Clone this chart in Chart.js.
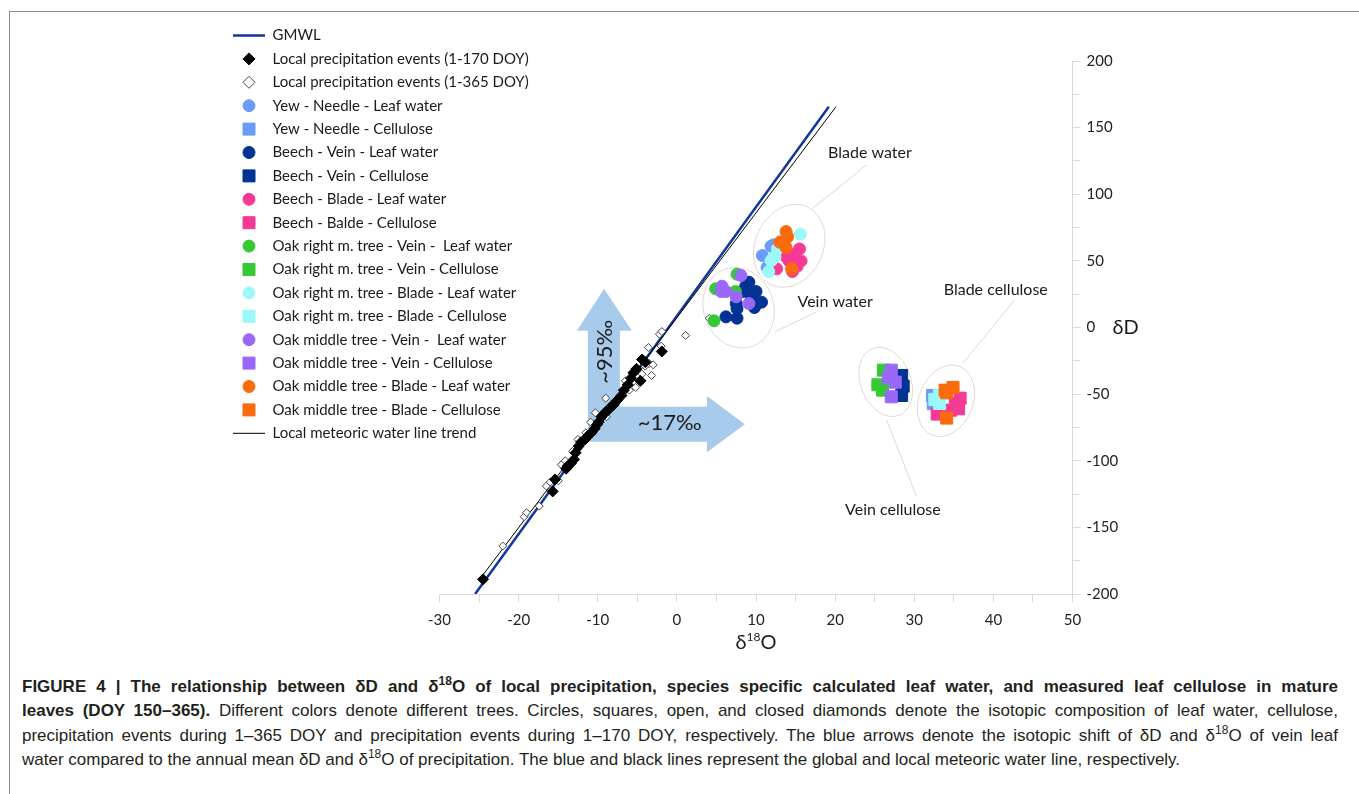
<!DOCTYPE html>
<html>
<head>
<meta charset="utf-8">
<script src="https://cdn.jsdelivr.net/npm/chart.js@4.4.1/dist/chart.umd.min.js"></script>
<style>
  html, body { margin: 0; padding: 0; background: #fff; }
  body { width: 1359px; height: 794px; position: relative; overflow: hidden; }
  #frame { position: absolute; left: 9px; top: 11px; width: 1360px; height: 800px; border: 1px solid #8c8c8c; box-sizing: border-box; }
  #plot { position: absolute; left: 0; top: 0; }
  #caption { position: absolute; left: 22px; top: 675px; width: 1316px; font-family: "Liberation Sans", Arial, sans-serif; font-size: 17px; line-height: 24.3px; color: #231f20; }
  #caption div { text-align: justify; text-align-last: justify; white-space: nowrap; }
  #caption div.last { text-align-last: left; }
  #caption sup { font-size: 12px; line-height: 0; }
</style>
</head>
<body>
<div id="frame"></div>
<canvas id="plot" width="1359" height="657"></canvas>
<div id="caption">
  <div><b>FIGURE 4 | The relationship between δD and δ<sup>18</sup>O of local precipitation, species specific calculated leaf water, and measured leaf cellulose in mature</b></div>
  <div><b>leaves (DOY 150–365).</b> Different colors denote different trees. Circles, squares, open, and closed diamonds denote the isotopic composition of leaf water, cellulose,</div>
  <div>precipitation events during 1–365 DOY and precipitation events during 1–170 DOY, respectively. The blue arrows denote the isotopic shift of δD and δ<sup>18</sup>O of vein leaf</div>
  <div class="last">water compared to the annual mean δD and δ<sup>18</sup>O of precipitation. The blue and black lines represent the global and local meteoric water line, respectively.</div>
</div>
<script>
// axis ranges
const xMin = -30, xMax = 50, xStep = 5;
const yMin = -200, yMax = 200, yStep = 25;

// [δ18O, δD] pairs
const gmwl = [[-25.5, -200], [19.2, 165.6]];
const lmwl = [[-24.8, -188], [20.1, 165.6]];

const precip170 = [
    [-24.5, -189], [-15.7, -123], [-15.4, -114], [-14.0, -106], [-13.8, -104], [-13.4, -102],
    [-13.0, -99], [-12.8, -94], [-12.4, -89], [-12.1, -86], [-11.6, -84], [-11.2, -81],
    [-10.8, -79], [-10.4, -76], [-10.1, -73], [-9.9, -71], [-9.5, -67], [-9.1, -64],
    [-8.7, -62], [-8.4, -60], [-8.0, -58], [-7.6, -55], [-7.0, -51], [-6.7, -47],
    [-6.2, -43], [-5.8, -38], [-5.5, -34], [-5.1, -31], [-4.6, -40], [-4.4, -24],
    [-4.0, -26], [-1.9, -18]
];
const precip365 = [
    [-22.0, -164], [-19.3, -142], [-19.0, -139], [-17.4, -134], [-16.5, -119], [-16.0, -116],
    [-15.0, -115], [-14.6, -103], [-14.1, -100], [-13.2, -93], [-12.5, -84], [-11.5, -79],
    [-10.9, -71], [-10.3, -64], [-9.0, -53], [-8.9, -67], [-8.3, -58], [-7.3, -54],
    [-6.5, -40], [-6.0, -47], [-5.5, -42], [-5.2, -45], [-4.4, -35], [-4.0, -29],
    [-3.5, -27], [-3.2, -36], [-3.0, -28], [-3.6, -15], [-2.0, -14], [-2.2, -5],
    [-1.9, -3], [1.1, -6], [4.1, 7]
];

const yewWater = [[11.9, 61], [10.8, 54], [11.4, 45], [12.2, 62]];
const yewCellulose = [[32.3, -51], [32.4, -57]];
const beechVeinWater = [[9.1, 34], [8.7, 31], [10.0, 27], [8.3, 27], [9.4, 23], [7.5, 18], [7.6, 14], [10.7, 19], [9.8, 15], [6.2, 8], [7.6, 7]];
const beechVeinCellulose = [[28.4, -36], [28.6, -44], [28.4, -51]];
const beechBladeWater = [[15.5, 59], [15.7, 50], [14.9, 55], [14.2, 50], [14.6, 42], [12.6, 44], [13.8, 53], [15.2, 46]];
const beechBladeCellulose = [[35.6, -61], [35.8, -53], [35.2, -57], [32.9, -65], [34.6, -62]];
const oakRightVeinWater = [[7.6, 40], [4.9, 29], [7.4, 27], [4.7, 5]];
const oakRightVeinCellulose = [[25.4, -43], [26.0, -47], [26.1, -32]];
const oakRightBladeWater = [[15.6, 70], [13.3, 66], [12.7, 59], [12.4, 53], [12.0, 51], [11.9, 50], [11.6, 42]];
const oakRightBladeCellulose = [[33.2, -51], [33.2, -57], [32.6, -54]];
const oakMidVeinWater = [[8.1, 39], [5.7, 31], [5.6, 27], [6.2, 27], [7.5, 23], [9.1, 18]];
const oakMidVeinCellulose = [[27.1, -32], [26.7, -38], [27.6, -41], [27.1, -52]];
const oakMidBladeWater = [[13.8, 72], [14.0, 68], [13.0, 64], [13.8, 60], [14.5, 44]];
const oakMidBladeCellulose = [[34.1, -49], [34.9, -45], [33.9, -47], [34.1, -68]];

// drawing helpers for the annotations (figure coordinates)
const arrowOutline = [
    [-11.25, -85.8], [-11.25, -2.5], [-12.64, -2.5], [-9.2, 29], [-5.69, -2.5], [-7.2, -2.5],
    [-7.2, -59.5], [3.8, -59.5], [3.8, -51.5], [8.6, -72.6], [3.8, -93.7], [3.8, -85.8]
];
const rings = [
    { x: 14.2, y: 61.3, rx: 34, ry: 43, rot: 25 },
    { x: 7.8, y: 14.8, rx: 35, ry: 41, rot: -20 },
    { x: 26.4, y: -40.8, rx: 25, ry: 36, rot: -22 },
    { x: 34.0, y: -55.0, rx: 27, ry: 37, rot: 22 }
];
const leaders = [
    [[17.2, 89.6], [24.0, 122]],
    [[12.4, -3.2], [17.7, 11.8]],
    [[36.2, -26.5], [42.7, 20.8]],
    [[26.5, -69.2], [30.3, -127]]
];
const clusterNames = [
    { text: 'Blade water', x: 24.4, y: 131 },
    { text: 'Vein water', x: 20.0, y: 19.3 },
    { text: 'Blade cellulose', x: 40.3, y: 28.3 },
    { text: 'Vein cellulose', x: 27.3, y: -136.8 }
];

const toPts = arr => arr.map(p => ({ x: p[0], y: p[1] }));

const lineSet = (label, data, color, width, order) => ({
    label, data: toPts(data), showLine: true, borderColor: color, borderWidth: width,
    pointRadius: 0, order
});
const markerSet = (label, data, style, color, radius, order) => ({
    label, data: toPts(data), showLine: false, pointStyle: style, pointRadius: radius,
    pointBackgroundColor: color, pointBorderColor: color, pointBorderWidth: 1, order
});

const datasets = [
    lineSet('GMWL', gmwl, '#12379a', 2.5, 200),
    markerSet('Local precipitation events (1-170 DOY)', precip170, 'rectRot', '#000', 5.5, 197),
    Object.assign(markerSet('Local precipitation events (1-365 DOY)', precip365, 'rectRot', '#fff', 4, 198),
        { pointBorderColor: '#444' }),
    markerSet('Yew - Needle - Leaf water', yewWater, 'circle', '#6a9bf8', 6, 100),
    markerSet('Yew - Needle - Cellulose', yewCellulose, 'rect', '#6a9bf8', 8.5, 99),
    markerSet('Beech - Vein - Leaf water', beechVeinWater, 'circle', '#023394', 6, 98),
    markerSet('Beech - Vein - Cellulose', beechVeinCellulose, 'rect', '#023394', 8.5, 97),
    markerSet('Beech - Blade - Leaf water', beechBladeWater, 'circle', '#f53a96', 6, 96),
    markerSet('Beech - Balde - Cellulose', beechBladeCellulose, 'rect', '#f53a96', 8.5, 95),
    markerSet('Oak right m. tree - Vein -  Leaf water', oakRightVeinWater, 'circle', '#36c936', 6, 94),
    markerSet('Oak right m. tree - Vein - Cellulose', oakRightVeinCellulose, 'rect', '#36c936', 8.5, 93),
    markerSet('Oak right m. tree - Blade - Leaf water', oakRightBladeWater, 'circle', '#9cf8f8', 6, 92),
    markerSet('Oak right m. tree - Blade - Cellulose', oakRightBladeCellulose, 'rect', '#9cf8f8', 8.5, 91),
    markerSet('Oak middle tree - Vein -  Leaf water', oakMidVeinWater, 'circle', '#9a68f8', 6, 90),
    markerSet('Oak middle tree - Vein - Cellulose', oakMidVeinCellulose, 'rect', '#9a68f8', 8.5, 89),
    markerSet('Oak middle tree - Blade - Leaf water', oakMidBladeWater, 'circle', '#fa6b0c', 6, 88),
    markerSet('Oak middle tree - Blade - Cellulose', oakMidBladeCellulose, 'rect', '#fa6b0c', 8.5, 87),
    lineSet('Local meteoric water line trend', lmwl, '#000', 1, 199)
];

// small marker painter used by the legend
function paintMarker(ctx, style, x, y, r) {
    ctx.beginPath();
    if (style === 'circle') {
        ctx.arc(x, y, r, 0, Math.PI * 2);
    } else if (style === 'rect') {
        ctx.rect(x - r, y - r, 2 * r, 2 * r);
    } else {
        ctx.moveTo(x, y - r); ctx.lineTo(x + r, y); ctx.lineTo(x, y + r); ctx.lineTo(x - r, y);
        ctx.closePath();
    }
    ctx.fill();
    ctx.stroke();
}

const sideLegend = {
    id: 'sideLegend',
    afterDraw(chart) {
        const ctx = chart.ctx;
        ctx.save();
        ctx.font = '15px Lato, sans-serif';
        ctx.textBaseline = 'middle';
        chart.data.datasets.forEach((ds, i) => {
            const y = 35.5 + i * 23.4;
            if (ds.showLine) {
                ctx.strokeStyle = ds.borderColor;
                ctx.lineWidth = ds.borderWidth;
                ctx.beginPath(); ctx.moveTo(233, y); ctx.lineTo(265, y); ctx.stroke();
            } else {
                ctx.fillStyle = ds.pointBackgroundColor;
                ctx.strokeStyle = ds.pointBorderColor;
                ctx.lineWidth = 1;
                paintMarker(ctx, ds.pointStyle, 249, y, 6);
            }
            ctx.fillStyle = '#1a1a1a';
            ctx.fillText(ds.label, 272.5, y);
        });
        ctx.restore();
    }
};

const notes = {
    id: 'notes',
    beforeDatasetsDraw(chart) {
        const { ctx, scales: { x, y } } = chart;
        const X = v => x.getPixelForValue(v), Y = v => y.getPixelForValue(v);
        ctx.save();
        ctx.fillStyle = 'rgb(169,203,235)';
        ctx.beginPath();
        arrowOutline.forEach((p, i) => i ? ctx.lineTo(X(p[0]), Y(p[1])) : ctx.moveTo(X(p[0]), Y(p[1])));
        ctx.closePath();
        ctx.fill();

        ctx.strokeStyle = '#e6d5d5';
        ctx.lineWidth = 1;
        rings.forEach(r => {
            ctx.beginPath();
            ctx.ellipse(X(r.x), Y(r.y), r.rx, r.ry, r.rot * Math.PI / 180, 0, Math.PI * 2);
            ctx.stroke();
        });
        leaders.forEach(l => {
            ctx.beginPath();
            ctx.moveTo(X(l[0][0]), Y(l[0][1]));
            ctx.lineTo(X(l[1][0]), Y(l[1][1]));
            ctx.stroke();
        });

        ctx.fillStyle = '#1a1a1a';
        ctx.font = '22px Lato, sans-serif';
        ctx.textAlign = 'center';
        ctx.textBaseline = 'middle';
        ctx.save();
        ctx.translate(X(-9.1), Y(-18.2));
        ctx.rotate(-Math.PI / 2);
        ctx.fillText('~95‰', 0, 0);
        ctx.restore();
        ctx.fillText('~17‰', X(-0.9), Y(-71.5));
        ctx.restore();
    },
    afterDraw(chart) {
        const { ctx, chartArea, scales: { x, y } } = chart;
        const X = v => x.getPixelForValue(v), Y = v => y.getPixelForValue(v);
        ctx.save();
        ctx.fillStyle = '#1a1a1a';
        ctx.textBaseline = 'middle';
        ctx.textAlign = 'center';
        ctx.font = '16px Lato, sans-serif';
        clusterNames.forEach(n => ctx.fillText(n.text, X(n.x), Y(n.y)));

        // axis titles
        ctx.textAlign = 'left';
        ctx.font = '20px Lato, sans-serif';
        ctx.fillText('δD', chartArea.right + 40, Y(0));

        const big = '20px Lato, sans-serif', small = '12px Lato, sans-serif';
        ctx.font = big; const wd = ctx.measureText('δ').width, wo = ctx.measureText('O').width;
        ctx.font = small; const ws = ctx.measureText('18').width;
        let tx = (chartArea.left + chartArea.right) / 2 - (wd + ws + wo) / 2;
        const ty = 643;
        ctx.font = big; ctx.fillText('δ', tx, ty); tx += wd;
        ctx.font = small; ctx.fillText('18', tx, ty - 6); tx += ws;
        ctx.font = big; ctx.fillText('O', tx, ty);
        ctx.restore();
    }
};

const axisColor = '#d9d9d9';
const tickFont = { family: 'Lato, sans-serif', size: 15 };

new Chart(document.getElementById('plot'), {
    type: 'scatter',
    data: { datasets },
    options: {
        responsive: false,
        animation: false,
        events: [],
        layout: { padding: { left: 439.5, top: 61, right: 226.5, bottom: 0 } },
        plugins: { legend: { display: false }, tooltip: { enabled: false } },
        scales: {
            x: {
                type: 'linear', min: xMin, max: xMax,
                afterFit: s => { s.height = 63; },
                ticks: {
                    stepSize: xStep, padding: 9, color: '#222', font: tickFont,
                    callback: v => (v % 10 === 0 ? v : '')
                },
                grid: { drawOnChartArea: false, tickLength: 8, color: axisColor },
                border: { color: axisColor }
            },
            y: {
                type: 'linear', position: 'right', min: yMin, max: yMax,
                afterFit: s => { s.width = 60; },
                ticks: {
                    stepSize: yStep, padding: 6, color: '#222', font: tickFont,
                    callback: v => (v % 50 === 0 ? v : '')
                },
                grid: { drawOnChartArea: false, tickLength: 8, color: axisColor },
                border: { color: axisColor }
            }
        }
    },
    plugins: [sideLegend, notes]
});
</script>
</body>
</html>
